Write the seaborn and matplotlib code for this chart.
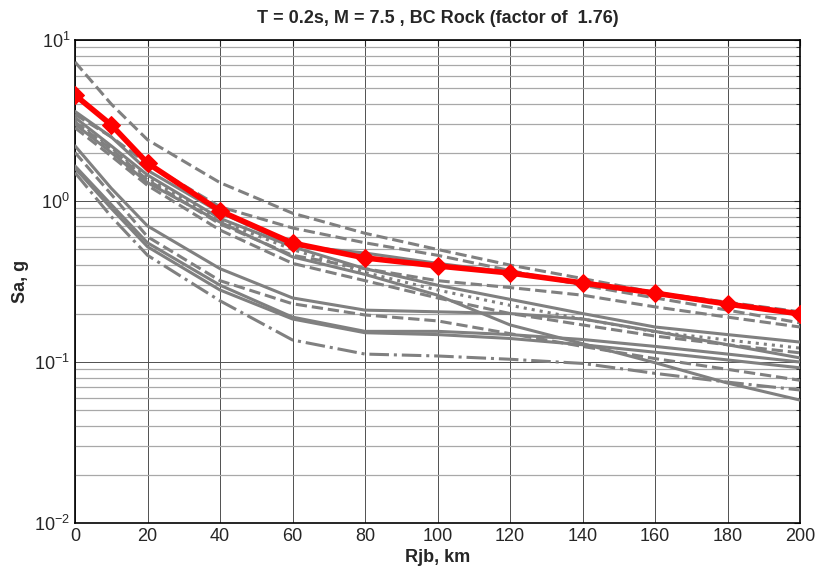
import numpy as np
import pandas as pd
import seaborn as sns
import matplotlib.pyplot as plt
from matplotlib.ticker import LogLocator, FixedLocator

# distances (km)
rjb = [0, 10, 20, 40, 60, 80, 100, 120, 140, 160, 180, 200]

# scaled target (red)
sa_target = [4.55, 2.97, 1.72, 0.867, 0.548, 0.443, 0.395, 0.357, 0.31, 0.268, 0.229, 0.199]

# individual GMPE curves (gray)
gm_a = [7.3, 4.0, 2.4, 1.3, 0.84, 0.63, 0.50, 0.40, 0.33, 0.27, 0.235, 0.205]
gm_b = [3.45, 2.5, 1.7, 0.92, 0.68, 0.55, 0.46, 0.37, 0.30, 0.25, 0.21, 0.175]
gm_s1 = [3.6, 2.5, 1.55, 0.85, 0.53, 0.475, 0.41, 0.36, 0.31, 0.27, 0.23, 0.2]
gm_cs = [3.3, 2.2, 1.45, 0.78, 0.52, 0.38, 0.30, 0.245, 0.2, 0.165, 0.148, 0.133]
gm_d = [3.2, 2.15, 1.4, 0.75, 0.50, 0.36, 0.28, 0.225, 0.185, 0.154, 0.137, 0.122]
gm_c = [3.1, 2.1, 1.35, 0.72, 0.46, 0.38, 0.32, 0.29, 0.26, 0.22, 0.19, 0.165]
gm_st = [3.0, 2.0, 1.3, 0.74, 0.45, 0.35, 0.26, 0.17, 0.13, 0.099, 0.074, 0.058]
gm_cd = [2.85, 1.9, 1.25, 0.66, 0.41, 0.32, 0.25, 0.2, 0.17, 0.145, 0.128, 0.114]
gm_l1 = [2.2, 1.2, 0.7, 0.38, 0.25, 0.21, 0.205, 0.2, 0.185, 0.155, 0.128, 0.106]
gm_l2 = [2.0, 1.1, 0.6, 0.32, 0.23, 0.196, 0.18, 0.15, 0.125, 0.105, 0.09, 0.077]
gm_l3a = [1.65, 0.95, 0.55, 0.3, 0.19, 0.155, 0.155, 0.148, 0.138, 0.125, 0.112, 0.1]
gm_l3b = [1.6, 0.9, 0.52, 0.28, 0.185, 0.152, 0.148, 0.14, 0.128, 0.115, 0.103, 0.092]
gm_l4 = [1.5, 0.8, 0.46, 0.24, 0.137, 0.112, 0.109, 0.104, 0.098, 0.085, 0.075, 0.067]

gray_curves = [
    (gm_a, '--'), (gm_b, '--'), (gm_s1, '-'), (gm_cs, '-'), (gm_d, ':'),
    (gm_c, '--'), (gm_st, '-'), (gm_cd, '--'), (gm_l1, '-'), (gm_l2, '--'),
    (gm_l3a, '-'), (gm_l3b, '-'), (gm_l4, '-.'),
]

sns.set_style('white')
plt.rcParams['font.family'] = ['Liberation Sans Narrow', 'Liberation Sans', 'DejaVu Sans']

fig = plt.figure(figsize=(8.17, 5.70), dpi=100)
ax = fig.add_axes([75 / 817, 1 - 523 / 570, 725 / 817, 483 / 570])

for vals, ls in gray_curves:
    df = pd.DataFrame({'Rjb': rjb, 'Sa': vals})
    sns.lineplot(data=df, x='Rjb', y='Sa', ax=ax, color='#808080', linewidth=2.2,
                 linestyle=ls, zorder=3)

df_t = pd.DataFrame({'Rjb': rjb, 'Sa': sa_target})
sns.lineplot(data=df_t, x='Rjb', y='Sa', ax=ax, color='red', linewidth=4,
             marker='D', markersize=9, markeredgecolor='red', zorder=4)

ax.set_yscale('log')
ax.set_xlim(0, 200)
ax.set_ylim(0.01, 10)
ax.xaxis.set_major_locator(FixedLocator(list(range(0, 201, 20))))
ax.yaxis.set_major_locator(LogLocator(base=10, numticks=10))
ax.yaxis.set_minor_locator(LogLocator(base=10, subs=np.arange(2, 10), numticks=20))

ax.grid(True, which='major', color='#505050', linewidth=0.7)
ax.grid(True, which='minor', axis='y', color='#a8a8a8', linewidth=0.9)
ax.set_axisbelow(True)

ax.tick_params(which='both', direction='in', top=True, right=True, labelsize=13)
ax.tick_params(which='major', length=4)
ax.tick_params(which='minor', length=3)
for s in ax.spines.values():
    s.set_color('black')
    s.set_linewidth(1.2)

ax.set_xlabel('Rjb, km', fontsize=13, fontweight='bold', labelpad=3)
ax.set_ylabel('Sa, g', fontsize=13, fontweight='bold', labelpad=4)
ax.set_title('T = 0.2s, M = 7.5 , BC Rock (factor of  1.76)', fontsize=13,
             fontweight='bold', pad=12)

fig.savefig('out.png', dpi=100)
